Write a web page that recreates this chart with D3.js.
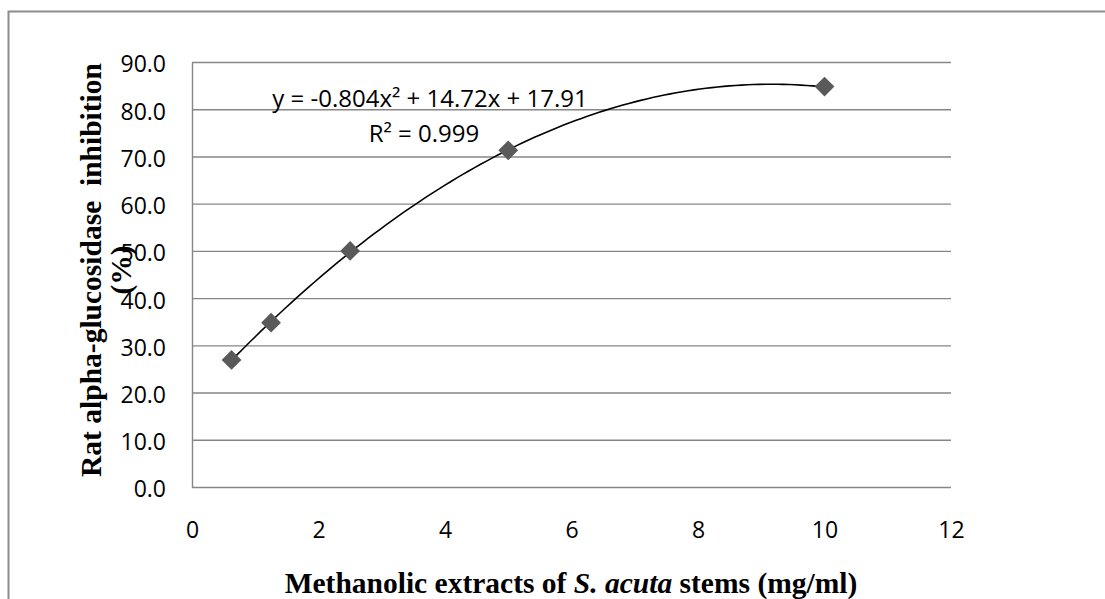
<!DOCTYPE html>
<html>
<head>
<meta charset="utf-8">
<script src="https://cdn.jsdelivr.net/npm/d3@7"></script>
<style>
  body { margin: 0; background: #fff; }
  .tick text { font-family: "Open Sans", sans-serif; font-size: 23px; fill: #000; }
  .grid line, .grid path { stroke: #868686; stroke-width: 1.4; }
  .title { font-family: "Liberation Serif", "Times New Roman", serif; font-weight: bold; font-size: 29.5px; }
  .eq { font-family: "Open Sans", sans-serif; font-size: 24px; }
</style>
</head>
<body>
<div id="chart"></div>
<script>
// data
const concentrations = [0.625, 1.25, 2.5, 5, 10];
const inhibition = [26.9, 34.8, 50.0, 71.3, 84.8];
const xTicks = [0, 2, 4, 6, 8, 10, 12];
const yTicks = [0, 10, 20, 30, 40, 50, 60, 70, 80, 90];
// polynomial trendline y = a x^2 + b x + c
const trendCoef = [-0.804, 14.72, 17.91];
const eqLabel = "y = -0.804x² + 14.72x + 17.91";
const r2Label = "R² = 0.999";

const W = 1105, H = 599;
const plot = {left: 192, top: 62, right: 951, bottom: 487};

const svg = d3.select("#chart").append("svg")
    .attr("width", W)
    .attr("height", H);

// outer chart frame (runs off the right and bottom edges)
svg.append("rect")
    .attr("x", 8.5).attr("y", 11.5)
    .attr("width", 1200).attr("height", 700)
    .attr("fill", "none")
    .attr("stroke", "#8c8c8c")
    .attr("stroke-width", 2);

const x = d3.scaleLinear().domain([0, 12]).range([plot.left, plot.right]);
const y = d3.scaleLinear().domain([0, 90]).range([plot.bottom, plot.top]);

// y axis + horizontal grid
const yAxis = svg.append("g")
    .attr("class", "grid")
    .attr("transform", "translate(" + plot.left + ",0)")
    .call(d3.axisLeft(y)
        .tickValues(yTicks)
        .tickFormat(d3.format(".1f"))
        .tickSize(-(plot.right - plot.left))
        .tickSizeOuter(0)
        .tickPadding(26));
yAxis.selectAll(".tick text").attr("dy", "0.43em");

// x axis labels only
const xAxis = svg.append("g")
    .attr("transform", "translate(0," + plot.bottom + ")")
    .call(d3.axisBottom(x).tickValues(xTicks).tickFormat(d3.format("d")).tickSize(0));
xAxis.select(".domain").remove();
xAxis.selectAll(".tick text").attr("y", 51).attr("dy", 0);

// trendline
const trend = d3.range(0, 101).map(function(i){
    const xv = concentrations[0] + (concentrations[concentrations.length-1] - concentrations[0]) * i / 100;
    return [xv, trendCoef[0]*xv*xv + trendCoef[1]*xv + trendCoef[2]];
});
svg.append("path")
    .datum(trend)
    .attr("fill", "none")
    .attr("stroke", "#000")
    .attr("stroke-width", 1.6)
    .attr("d", d3.line().x(function(d){return x(d[0]);}).y(function(d){return y(d[1]);}));

// diamond markers
svg.append("g")
    .selectAll("path")
    .data(concentrations)
    .enter()
    .append("path")
    .attr("d", d3.symbol().type(d3.symbolSquare).size(196))
    .attr("transform", function(d, i){return "translate(" + x(d) + "," + y(inhibition[i]) + ") rotate(45)";})
    .attr("fill", "#5a5a5a");

// trendline equation
svg.append("text").attr("class", "eq")
    .attr("x", 430).attr("y", 107)
    .attr("text-anchor", "middle")
    .text(eqLabel);
svg.append("text").attr("class", "eq")
    .attr("x", 424).attr("y", 141.5)
    .attr("text-anchor", "middle")
    .text(r2Label);

// axis titles
const yt = svg.append("text").attr("class", "title")
    .attr("transform", "translate(101,270) rotate(-90)")
    .attr("text-anchor", "middle");
yt.append("tspan").attr("x", 0).attr("y", 0).attr("xml:space", "preserve").text("Rat alpha-glucosidase  inhibition");
yt.append("tspan").attr("x", 0).attr("y", 30).text("(%)");

const xt = svg.append("text").attr("class", "title")
    .attr("x", 571).attr("y", 593)
    .attr("text-anchor", "middle");
xt.append("tspan").text("Methanolic extracts of ");
xt.append("tspan").style("font-style", "italic").text("S. acuta");
xt.append("tspan").text(" stems (mg/ml)");
</script>
</body>
</html>
